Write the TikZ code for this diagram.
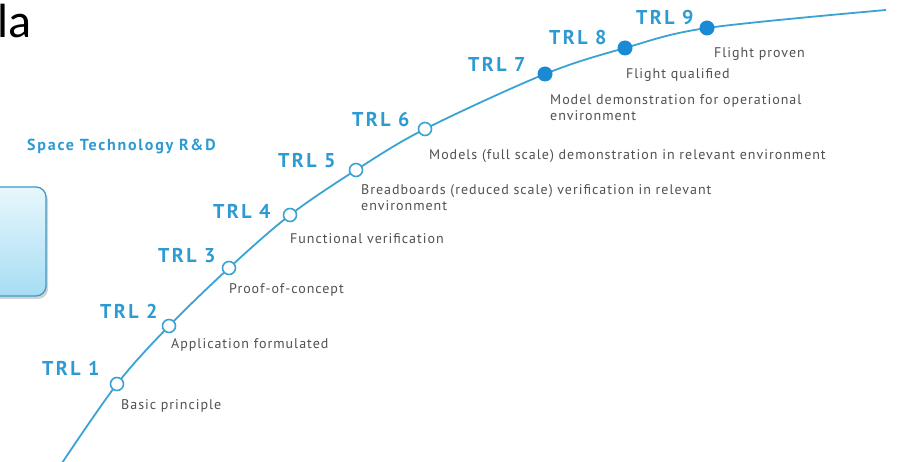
\documentclass[tikz,border=0pt]{standalone}
\usepackage{fontspec}
\setmainfont{PT Sans}
\newfontfamily\calfont{Carlito}
\newfontfamily\dscfont[LetterSpace=7]{PT Sans}
\newfontfamily\trlfont[LetterSpace=12]{PT Sans}
\newfontfamily\strfont[LetterSpace=11]{PT Sans}
\usetikzlibrary{shadows}
\definecolor{trlblue}{HTML}{2E9AD2}
\definecolor{linecol}{HTML}{3AA3D3}
\definecolor{dotblue}{HTML}{1A8AD4}
\definecolor{desc}{HTML}{505050}
\definecolor{boxedge}{HTML}{3A9CC8}
\definecolor{boxtop}{HTML}{E8F7FD}
\definecolor{boxbot}{HTML}{A6DDF3}
\tikzset{
  trl/.style={anchor=west, text=trlblue, font=\trlfont\fontsize{20}{20}\selectfont\bfseries, inner sep=0},
  dsc/.style={anchor=west, text=desc, font=\dscfont\fontsize{14}{16}\selectfont, inner sep=0, align=left},
  opendot/.style={circle, draw=linecol, fill=white, line width=1.6pt, minimum size=13pt, inner sep=0},
  fulldot/.style={circle, fill=dotblue, minimum size=15pt, inner sep=0},
  curve/.style={draw=linecol, line width=1.8pt},
}
\begin{document}
\begin{tikzpicture}[x=1pt,y=-1pt]
\useasboundingbox (0,0) rectangle (900,462);
% title fragment
\node[anchor=base west, inner sep=0, font=\calfont\fontsize{48}{48}\selectfont] (la) at (-3,38) {la};
% box
\node[draw=boxedge, line width=1.3pt, rounded corners=10pt, top color=boxtop, bottom color=boxbot,
      minimum width=66pt, minimum height=109pt, drop shadow={opacity=0.35, shadow xshift=2pt, shadow yshift=-3pt}] (box) at (13,241.5) {};
\node[anchor=west, inner sep=0, text=trlblue, font=\strfont\fontsize{16}{16}\selectfont\bfseries] (str) at (27,146) {Space Technology R\&D};
% curve points
\coordinate (c0) at (60,466);
\coordinate (p1) at (117,384);
\coordinate (p2) at (169,326);
\coordinate (p3) at (229,268);
\coordinate (p4) at (290,215);
\coordinate (p5) at (356,170);
\coordinate (p6) at (425,129);
\coordinate (p7) at (545,74);
\coordinate (p8) at (625,48);
\coordinate (p9) at (707,28);
\coordinate (c10) at (886,10);
\draw[curve] plot[smooth, tension=0.55] coordinates {(c0) (p1) (p2) (p3) (p4) (p5) (p6) (p7) (p8) (p9) (c10)};
% dots
\node[opendot] (n1) at (p1) {};
\node[opendot] (n2) at (p2) {};
\node[opendot] (n3) at (p3) {};
\node[opendot] (n4) at (p4) {};
\node[opendot] (n5) at (p5) {};
\node[opendot] (n6) at (p6) {};
\node[fulldot] (n7) at (p7) {};
\node[fulldot] (n8) at (p8) {};
\node[fulldot] (n9) at (p9) {};
% TRL labels
\node[trl] (t1) at (42,368) {TRL 1};
\node[trl] (t2) at (100,311) {TRL 2};
\node[trl] (t3) at (158,256) {TRL 3};
\node[trl] (t4) at (213,211) {TRL 4};
\node[trl] (t5) at (278,161) {TRL 5};
\node[trl] (t6) at (352,120) {TRL 6};
\node[trl] (t7) at (468,64) {TRL 7};
\node[trl] (t8) at (549,38) {TRL 8};
\node[trl] (t9) at (636,18) {TRL 9};
% descriptions
\node[dsc] (d1) at (121,406) {Basic principle};
\node[dsc] (d2) at (171,345) {Application formulated};
\node[dsc] (d3) at (229,290) {Proof-of-concept};
\node[dsc] (d4) at (290,239) {Functional verification};
\node[dsc, anchor=north west] (d5) at (361,184) {Breadboards (reduced scale) verification in relevant\\environment};
\node[dsc] (d6) at (429,156) {Models (full scale) demonstration in relevant environment};
\node[dsc, anchor=north west] (d7) at (550,94) {Model demonstration for operational\\environment};
\node[dsc] (d8) at (626,75) {Flight qualified};
\node[dsc] (d9) at (714,54) {Flight proven};
\end{tikzpicture}
\end{document}
